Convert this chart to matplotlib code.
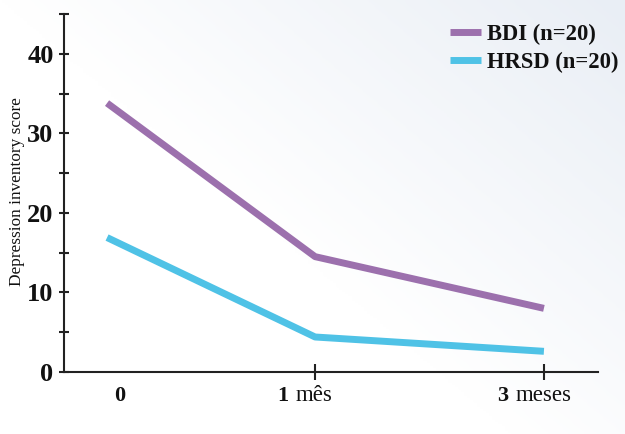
import numpy as np
import matplotlib
matplotlib.use('Agg')
import matplotlib.pyplot as plt
from matplotlib.colors import LinearSegmentedColormap


## Data ##

timepoints = ['0', '1 mês', '3 meses']
time_num = ['0', '1', '3']
time_unit = ['', 'mês', 'meses']
bdi = [33.8, 14.5, 8.0]
hrsd = [16.9, 4.4, 2.6]
series_labels = ['BDI (n=20)', 'HRSD (n=20)']



if __name__ == '__main__':

    plt.rcParams['font.family'] = ['Liberation Serif', 'DejaVu Serif']

    fig = plt.figure(figsize = (6.25, 4.34), dpi = 100)

    # faint background gradient, white top-left to pale blue bottom-right
    bg = fig.add_axes([0, 0, 1, 1], zorder = -10)
    gx, gy = np.meshgrid(np.linspace(0, 1, 200), np.linspace(0, 1, 200))
    grad = np.clip((gx * 1.1 + (1 - gy) * 0.9 - 0.9) / 1.1, 0, 1)
    cmap = LinearSegmentedColormap.from_list('bg', ['#ffffff', '#e9eef5'])
    bg.imshow(grad, cmap = cmap, aspect = 'auto', extent = (0, 1, 0, 1), origin = 'upper')
    bg.axis('off')

    ax = fig.add_axes([64 / 625, 62 / 434, 534 / 625, 358 / 434])
    ax.patch.set_alpha(0)

    x = np.array([0, 1, 2.1])
    ax.plot(x, bdi, color = '#9c70ad', linewidth = 5, solid_capstyle = 'butt', label = series_labels[0])
    ax.plot(x, hrsd, color = '#4fc2e6', linewidth = 5, solid_capstyle = 'butt', label = series_labels[1])

    ax.set_xlim(-0.207, 2.36)
    ax.set_ylim(0, 45)

    for side in ('top', 'right'):
        ax.spines[side].set_visible(False)
    for side in ('left', 'bottom'):
        ax.spines[side].set_linewidth(1.5)
        ax.spines[side].set_color('#222222')

    ax.set_yticks(np.arange(0, 46, 5))
    ax.set_yticklabels([str(v) if v % 10 == 0 and v <= 40 else '' for v in range(0, 46, 5)],
                       fontsize = 19, fontweight = 'bold')
    ax.tick_params(axis = 'y', direction = 'inout', length = 7, width = 1.5, pad = 4, colors = '#222222')
    ax.tick_params(axis = 'y', labelcolor = '#111111')

    ax.set_xticks(x[1:])
    ax.set_xticklabels([])
    ax.tick_params(axis = 'x', direction = 'inout', length = 12, width = 1.5, colors = '#222222')

    # x labels: bold number followed by regular unit
    offsets = [(13, 0), (-24, -24), (-33, -33)]
    for xi, num, unit, (dn, du) in zip(x, time_num, time_unit, offsets):
        if unit:
            ax.annotate(num, (xi, 0), xytext = (du * 0.72 - 2, -29 * 0.72), textcoords = 'offset points',
                        ha = 'right', va = 'baseline', fontsize = 16, fontweight = 'bold', color = '#111111')
            ax.annotate(unit, (xi, 0), xytext = (du * 0.72 + 3, -29 * 0.72), textcoords = 'offset points',
                        ha = 'left', va = 'baseline', fontsize = 16.5, color = '#111111')
        else:
            ax.annotate(num, (xi, 0), xytext = (dn * 0.72, -29 * 0.72), textcoords = 'offset points',
                        ha = 'center', va = 'baseline', fontsize = 16, fontweight = 'bold', color = '#111111')

    fig.text(17 / 625, 1 - 192 / 434, 'Depression inventory score', rotation = 90,
             ha = 'center', va = 'center', fontsize = 12.4, color = '#111111')

    leg = ax.legend(loc = 'upper left', bbox_to_anchor = (445 / 625, 1 - 19 / 434), bbox_transform = fig.transFigure,
                    frameon = False, handlelength = 1.4, handletextpad = 0.25, labelspacing = 0.3,
                    borderaxespad = 0, borderpad = 0.2, prop = {'size': 16.3, 'weight': 'bold'})
    for t in leg.get_texts():
        t.set_color('#111111')
    for h in leg.get_lines():
        h.set_linewidth(5)

    fig.savefig('out.png', dpi = 100)
